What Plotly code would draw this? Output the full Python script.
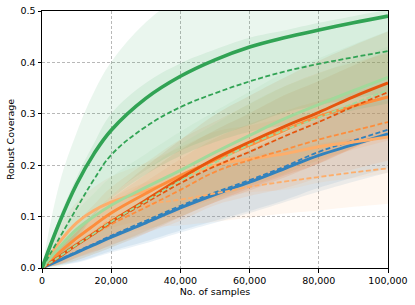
import plotly.graph_objects as go

samples = [0, 5000, 10000, 15000, 20000, 30000, 40000, 50000, 60000, 70000, 80000, 90000, 100000]

green_solid = [0, 0.088, 0.163, 0.222, 0.268, 0.33, 0.373, 0.405, 0.43, 0.448, 0.463, 0.477, 0.49]
green_dashed = [0, 0.058, 0.116, 0.172, 0.22, 0.275, 0.313, 0.34, 0.363, 0.382, 0.397, 0.41, 0.422]
lgreen_solid = [0, 0.04, 0.075, 0.1, 0.122, 0.157, 0.19, 0.225, 0.258, 0.29, 0.318, 0.345, 0.371]
lgreen_dashed = [0, 0.022, 0.045, 0.067, 0.09, 0.13, 0.17, 0.205, 0.24, 0.268, 0.293, 0.32, 0.346]
dorange_solid = [0, 0.022, 0.045, 0.067, 0.09, 0.132, 0.174, 0.213, 0.245, 0.275, 0.303, 0.333, 0.36]
dorange_dashed = [0, 0.022, 0.045, 0.067, 0.089, 0.127, 0.165, 0.198, 0.226, 0.256, 0.284, 0.314, 0.342]
orange_solid = [0, 0.03, 0.058, 0.083, 0.107, 0.145, 0.18, 0.21, 0.239, 0.268, 0.295, 0.315, 0.333]
orange_dashed = [0, 0.022, 0.045, 0.065, 0.085, 0.118, 0.152, 0.187, 0.21, 0.23, 0.25, 0.267, 0.284]
lorange_solid = [0, 0.05, 0.088, 0.112, 0.128, 0.15, 0.175, 0.2, 0.212, 0.222, 0.236, 0.245, 0.255]
lorange_dashed = [0, 0.023, 0.047, 0.07, 0.095, 0.122, 0.133, 0.145, 0.158, 0.168, 0.177, 0.186, 0.194]
blue_solid = [0, 0.015, 0.03, 0.045, 0.06, 0.088, 0.117, 0.143, 0.167, 0.193, 0.219, 0.24, 0.261]
blue_dashed = [0, 0.016, 0.032, 0.047, 0.063, 0.092, 0.121, 0.147, 0.171, 0.197, 0.226, 0.248, 0.269]

green_solid_sd = [0, 0.075, 0.1, 0.12, 0.133, 0.148, 0.155, 0.16, 0.165, 0.17, 0.17, 0.17, 0.17]
green_dashed_sd = [0, 0.04, 0.06, 0.07, 0.08, 0.085, 0.085, 0.085, 0.085, 0.08, 0.08, 0.08, 0.08]
lgreen_solid_sd = [0, 0.02, 0.035, 0.045, 0.055, 0.065, 0.075, 0.08, 0.085, 0.09, 0.09, 0.09, 0.09]
lgreen_dashed_sd = [0, 0.02, 0.03, 0.04, 0.05, 0.06, 0.07, 0.075, 0.08, 0.085, 0.085, 0.085, 0.085]
dorange_solid_sd = [0, 0.015, 0.03, 0.04, 0.05, 0.065, 0.075, 0.085, 0.09, 0.095, 0.1, 0.1, 0.1]
dorange_dashed_sd = [0, 0.015, 0.025, 0.035, 0.045, 0.055, 0.065, 0.07, 0.075, 0.08, 0.08, 0.08, 0.08]
orange_solid_sd = [0, 0.02, 0.03, 0.04, 0.05, 0.06, 0.07, 0.075, 0.08, 0.085, 0.085, 0.085, 0.085]
orange_dashed_sd = [0, 0.015, 0.025, 0.035, 0.04, 0.05, 0.06, 0.065, 0.07, 0.075, 0.075, 0.075, 0.075]
lorange_solid_sd = [0, 0.03, 0.04, 0.045, 0.05, 0.055, 0.06, 0.065, 0.065, 0.07, 0.07, 0.07, 0.07]
lorange_dashed_sd = [0, 0.015, 0.025, 0.035, 0.04, 0.045, 0.05, 0.055, 0.06, 0.062, 0.065, 0.067, 0.069]
blue_solid_sd = [0, 0.01, 0.02, 0.025, 0.03, 0.04, 0.048, 0.055, 0.06, 0.065, 0.07, 0.072, 0.075]
blue_dashed_sd = [0, 0.01, 0.02, 0.025, 0.03, 0.04, 0.048, 0.055, 0.06, 0.065, 0.07, 0.072, 0.075]

x_ticks = [0, 20000, 40000, 60000, 80000, 100000]
x_tick_labels = ["0", "20,000", "40,000", "60,000", "80,000", "100,000"]
y_ticks = [0.0, 0.1, 0.2, 0.3, 0.4, 0.5]
y_tick_labels = ["0.0", "0.1", "0.2", "0.3", "0.4", "0.5"]

BLUE = (49, 130, 189)
DORANGE = (230, 85, 13)
ORANGE = (253, 141, 60)
LORANGE = (253, 174, 107)
GREEN = (49, 163, 84)
LGREEN = (161, 217, 155)

series = [
    (blue_solid, blue_solid_sd, BLUE, "solid", 3.0),
    (blue_dashed, blue_dashed_sd, BLUE, "dash", 1.8),
    (lorange_dashed, lorange_dashed_sd, LORANGE, "dash", 1.8),
    (lorange_solid, lorange_solid_sd, LORANGE, "solid", 3.0),
    (orange_dashed, orange_dashed_sd, ORANGE, "dash", 1.8),
    (orange_solid, orange_solid_sd, ORANGE, "solid", 3.0),
    (dorange_dashed, dorange_dashed_sd, DORANGE, "dash", 1.8),
    (dorange_solid, dorange_solid_sd, DORANGE, "solid", 3.0),
    (lgreen_dashed, lgreen_dashed_sd, LGREEN, "dash", 1.8),
    (lgreen_solid, lgreen_solid_sd, LGREEN, "solid", 3.0),
    (green_dashed, green_dashed_sd, GREEN, "dash", 1.8),
    (green_solid, green_solid_sd, GREEN, "solid", 3.6),
]

SMOOTH = 1.1
fig = go.Figure()

for mean, sd, c, dash, w in series:
    lower = [m - s for m, s in zip(mean, sd)]
    upper = [m + s for m, s in zip(mean, sd)]
    fig.add_trace(go.Scatter(x=samples, y=lower, mode="lines", line=dict(width=0, shape="spline", smoothing=SMOOTH),
                             showlegend=False, hoverinfo="skip"))
    fig.add_trace(go.Scatter(x=samples, y=upper, mode="lines", line=dict(width=0, shape="spline", smoothing=SMOOTH),
                             fill="tonexty", fillcolor="rgba(%d,%d,%d,0.1)" % c,
                             showlegend=False, hoverinfo="skip"))

for mean, sd, c, dash, w in series:
    fig.add_trace(go.Scatter(x=samples, y=mean, mode="lines",
                             line=dict(color="rgb(%d,%d,%d)" % c, width=w,
                                       dash=("5px,2.5px" if dash == "dash" else "solid"),
                                       shape="spline", smoothing=SMOOTH),
                             showlegend=False))

axis_common = dict(
    showline=True, linecolor="black", linewidth=1, mirror=True,
    ticks="outside", ticklen=3.5, tickwidth=0.8, tickcolor="black",
    showgrid=True, gridcolor="#b8b8b8", gridwidth=0.8, griddash="3px,2px",
    zeroline=False, automargin=False,
    tickfont=dict(family="DejaVu Sans", size=9.5, color="black"),
)

fig.update_layout(
    width=415, height=305,
    margin=dict(l=42, r=27, t=11, b=37),
    paper_bgcolor="white", plot_bgcolor="white",
    font=dict(family="DejaVu Sans", size=9.5, color="black"),
    xaxis=dict(range=[0, 100000], tickvals=x_ticks, ticktext=x_tick_labels,
               title=dict(text="No. of samples", standoff=3, font=dict(size=9.5)), **axis_common),
    yaxis=dict(range=[0, 0.5], tickvals=y_ticks, ticktext=y_tick_labels,
               title=dict(text="Robust Coverage", standoff=4, font=dict(size=9.5)), **axis_common),
)

# remove the default 8px page margin so the figure sits at the window origin
fig.write_html("out.html", config={"displayModeBar": False},
               post_script="document.body.style.margin='0';")
